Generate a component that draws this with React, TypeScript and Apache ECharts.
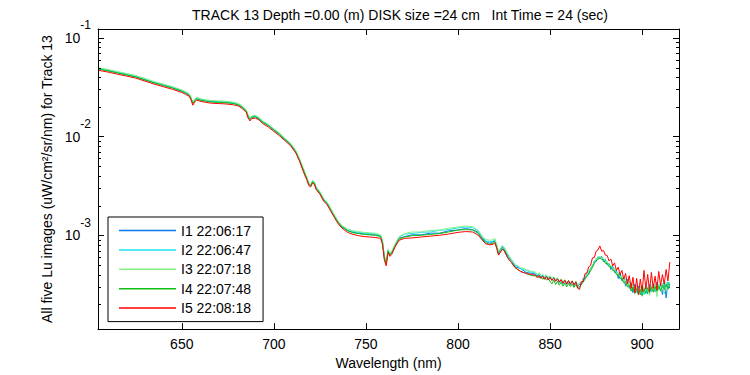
import React, { useEffect, useRef } from 'react';
import * as echarts from 'echarts';

const TITLE = 'TRACK 13 Depth =0.00 (m) DISK size =24 cm   Int Time = 24 (sec)';
const X_NAME = 'Wavelength (nm)';
const Y_NAME = 'All five Lu images (uW/cm²/sr/nm) for Track 13';
const X_MIN = 604.5;
const X_MAX = 920;
const Y_MIN = 1.12e-4;
const Y_MAX = 0.123;
const X_TICKS = [650, 700, 750, 800, 850, 900];
const Y_MINOR_TICKS = [
  2e-4, 3e-4, 4e-4, 5e-4, 6e-4, 7e-4, 8e-4, 9e-4,
  2e-3, 3e-3, 4e-3, 5e-3, 6e-3, 7e-3, 8e-3, 9e-3,
  2e-2, 3e-2, 4e-2, 5e-2, 6e-2, 7e-2, 8e-2, 9e-2,
];
const SERIES_NAMES = ['I1 22:06:17', 'I2 22:06:47', 'I3 22:07:18', 'I4 22:07:48', 'I5 22:08:18'];
const COLORS = ['#0a78f0', '#18e4f0', '#84f084', '#10c010', '#ff0000'];

const WAVELENGTH = [
  605, 610, 615, 620, 625, 630, 635, 640, 645, 650,
  652, 654, 655, 656, 657, 658, 660, 663, 666, 670,
  674, 678, 681, 683, 685, 686, 687, 688, 690, 692,
  694, 697, 700, 703, 706, 709, 712, 714, 716, 718,
  719, 720, 721, 722, 723, 725, 727, 729, 731, 733,
  735, 737, 740, 743, 746, 749, 752, 755, 758, 759,
  760, 761, 762, 763, 764, 766, 768, 771, 775, 780,
  785, 790, 795, 800, 804, 808, 811, 813, 815, 817,
  819, 820, 821, 822, 823, 824, 825, 827, 829, 831,
  834, 837, 840,
  842, 843, 844, 845, 846, 847, 848, 849, 850, 851,
  852, 853, 854, 855, 856, 857, 858, 859, 860, 861,
  862, 863, 864, 865, 866, 867, 868, 869, 870, 871,
  872, 873, 874, 875, 876, 877, 878, 879, 880, 881,
  882, 883, 884, 885, 886, 887, 888, 889, 890, 891,
  892, 893, 894, 895, 896, 897, 898, 899, 900, 901,
  902, 903, 904, 905, 906, 907, 908, 909, 910, 911,
  912, 913, 914, 915,
];

const I1 = [
  0.0485, 0.0466, 0.0445, 0.0425, 0.0405, 0.0378, 0.0352, 0.0332, 0.0312, 0.0290,
  0.0278, 0.0265, 0.0245, 0.0218, 0.0232, 0.0243, 0.0236, 0.0230, 0.0226, 0.0224,
  0.0222, 0.0218, 0.0210, 0.0198, 0.0182, 0.0162, 0.0150, 0.0158, 0.0160, 0.0152,
  0.0140, 0.0130, 0.0117, 0.0106, 0.0094, 0.0084, 0.0070, 0.0058, 0.0046, 0.0037,
  0.0033, 0.0032, 0.0035, 0.0034, 0.0030, 0.0027, 0.0023, 0.0021, 0.0018, 0.00155,
  0.00135, 0.00122, 0.00112, 0.00107, 0.00105, 0.00103, 0.00102, 0.00101, 0.00098, 0.00085,
  0.00060, 0.00052, 0.00070, 0.00064, 0.00067, 0.00080, 0.00093, 0.00097, 0.00101, 0.00101,
  0.00105, 0.00105, 0.00111, 0.00113, 0.00117, 0.00114, 0.00107, 0.00093, 0.00087, 0.00083,
  0.00086, 0.00088, 0.00077, 0.00066, 0.00071, 0.00075, 0.00074, 0.00061, 0.00056, 0.00048,
  0.00046, 0.00042, 0.00041,
  405e-6, 380e-6, 400e-6, 372e-6, 392e-6, 362e-6, 388e-6, 362e-6, 375e-6, 352e-6,
  370e-6, 345e-6, 362e-6, 332e-6, 355e-6, 322e-6, 350e-6, 318e-6, 342e-6, 316e-6,
  340e-6, 310e-6, 336e-6, 300e-6, 318e-6, 315e-6, 365e-6, 360e-6, 410e-6, 400e-6,
  470e-6, 475e-6, 548e-6, 540e-6, 605e-6, 580e-6, 610e-6, 540e-6, 568e-6, 500e-6,
  520e-6, 450e-6, 485e-6, 420e-6, 445e-6, 365e-6, 415e-6, 345e-6, 372e-6, 305e-6,
  358e-6, 290e-6, 330e-6, 262e-6, 320e-6, 270e-6, 305e-6, 250e-6, 310e-6, 262e-6,
  300e-6, 255e-6, 318e-6, 270e-6, 322e-6, 268e-6, 335e-6, 282e-6, 325e-6, 250e-6,
  345e-6, 232e-6, 335e-6, 290e-6,
];

const I2 = [
  0.0492, 0.0473, 0.0452, 0.0431, 0.0411, 0.0384, 0.0357, 0.0337, 0.0317, 0.0294,
  0.0282, 0.0269, 0.0249, 0.0221, 0.0235, 0.0247, 0.0240, 0.0233, 0.0229, 0.0227,
  0.0225, 0.0221, 0.0213, 0.0201, 0.0185, 0.0164, 0.0152, 0.0160, 0.0162, 0.0154,
  0.0142, 0.0132, 0.0119, 0.0108, 0.0095, 0.0085, 0.0071, 0.0059, 0.0047, 0.00376,
  0.00335, 0.00325, 0.00355, 0.00345, 0.00305, 0.00274, 0.00233, 0.00213, 0.00183, 0.00157,
  0.00137, 0.00124, 0.00114, 0.00109, 0.00107, 0.00105, 0.00104, 0.00103, 0.00099, 0.00086,
  0.00061, 0.00053, 0.00071, 0.00065, 0.00068, 0.00081, 0.00095, 0.00103, 0.00104, 0.00107,
  0.00108, 0.00112, 0.00114, 0.00119, 0.00121, 0.00120, 0.00110, 0.00097, 0.00088, 0.00086,
  0.00087, 0.00090, 0.00080, 0.00068, 0.00072, 0.00078, 0.00075, 0.00064, 0.00056, 0.00050,
  0.00046, 0.00044, 0.00042,
  415e-6, 398e-6, 405e-6, 388e-6, 390e-6, 384e-6, 386e-6, 378e-6, 378e-6, 372e-6,
  372e-6, 360e-6, 362e-6, 346e-6, 356e-6, 335e-6, 352e-6, 330e-6, 348e-6, 326e-6,
  344e-6, 320e-6, 340e-6, 314e-6, 324e-6, 330e-6, 358e-6, 378e-6, 405e-6, 425e-6,
  462e-6, 498e-6, 535e-6, 572e-6, 595e-6, 605e-6, 592e-6, 575e-6, 548e-6, 528e-6,
  505e-6, 488e-6, 462e-6, 445e-6, 425e-6, 402e-6, 385e-6, 372e-6, 355e-6, 340e-6,
  330e-6, 312e-6, 305e-6, 288e-6, 300e-6, 262e-6, 290e-6, 258e-6, 298e-6, 250e-6,
  295e-6, 268e-6, 305e-6, 275e-6, 312e-6, 280e-6, 318e-6, 288e-6, 325e-6, 292e-6,
  330e-6, 298e-6, 338e-6, 310e-6,
];

const I3 = [
  0.0497, 0.0478, 0.0456, 0.0436, 0.0415, 0.0387, 0.0361, 0.0340, 0.0320, 0.0297,
  0.0285, 0.0272, 0.0251, 0.0224, 0.0238, 0.0249, 0.0242, 0.0236, 0.0232, 0.0230,
  0.0228, 0.0223, 0.0215, 0.0203, 0.0187, 0.0166, 0.0154, 0.0162, 0.0164, 0.0156,
  0.0144, 0.0133, 0.0120, 0.0109, 0.0096, 0.0086, 0.0072, 0.0059, 0.0047, 0.0038,
  0.00338, 0.00328, 0.00359, 0.00349, 0.00308, 0.00277, 0.00236, 0.00215, 0.00185, 0.00159,
  0.00138, 0.00125, 0.00116, 0.00111, 0.00109, 0.00107, 0.00106, 0.00105, 0.00101, 0.00087,
  0.00062, 0.00053, 0.00072, 0.00066, 0.00069, 0.00083, 0.00097, 0.00104, 0.00108, 0.00108,
  0.00112, 0.00113, 0.00118, 0.00121, 0.00124, 0.00122, 0.00112, 0.00099, 0.00091, 0.00089,
  0.00090, 0.00093, 0.00080, 0.00068, 0.00073, 0.00079, 0.00076, 0.00065, 0.00057, 0.00051,
  0.00047, 0.00045, 0.00043,
  425e-6, 400e-6, 418e-6, 390e-6, 405e-6, 378e-6, 398e-6, 372e-6, 390e-6, 365e-6,
  382e-6, 355e-6, 372e-6, 345e-6, 362e-6, 336e-6, 355e-6, 328e-6, 350e-6, 322e-6,
  346e-6, 318e-6, 340e-6, 310e-6, 330e-6, 338e-6, 352e-6, 392e-6, 400e-6, 445e-6,
  450e-6, 505e-6, 518e-6, 582e-6, 572e-6, 618e-6, 568e-6, 590e-6, 525e-6, 545e-6,
  485e-6, 502e-6, 440e-6, 465e-6, 398e-6, 422e-6, 360e-6, 390e-6, 328e-6, 365e-6,
  298e-6, 342e-6, 275e-6, 325e-6, 255e-6, 310e-6, 248e-6, 305e-6, 240e-6, 300e-6,
  255e-6, 305e-6, 245e-6, 315e-6, 262e-6, 318e-6, 238e-6, 322e-6, 268e-6, 328e-6,
  255e-6, 335e-6, 278e-6, 336e-6,
];

const I4 = [
  0.0482, 0.0462, 0.0441, 0.0421, 0.0401, 0.0374, 0.0349, 0.0329, 0.0309, 0.0287,
  0.0275, 0.0262, 0.0243, 0.0217, 0.0230, 0.0241, 0.0234, 0.0228, 0.0224, 0.0222,
  0.0220, 0.0216, 0.0208, 0.0196, 0.0180, 0.0161, 0.0149, 0.0156, 0.0158, 0.0150,
  0.0139, 0.0129, 0.0116, 0.0105, 0.0093, 0.0083, 0.0069, 0.0057, 0.0046, 0.0037,
  0.00327, 0.00317, 0.00347, 0.00337, 0.00297, 0.00267, 0.00228, 0.00208, 0.00178, 0.00153,
  0.00134, 0.00121, 0.00111, 0.00106, 0.00104, 0.00102, 0.00101, 0.00100, 0.00097, 0.00084,
  0.00059, 0.00051, 0.00069, 0.00063, 0.00066, 0.00079, 0.00092, 0.00096, 0.00099, 0.00100,
  0.00102, 0.00104, 0.00108, 0.00113, 0.00114, 0.00113, 0.00104, 0.00092, 0.00084, 0.00081,
  0.00083, 0.00086, 0.00075, 0.00063, 0.00068, 0.00073, 0.00071, 0.00059, 0.00053, 0.00047,
  0.00043, 0.00041, 0.00039,
  388e-6, 392e-6, 370e-6, 380e-6, 358e-6, 372e-6, 352e-6, 366e-6, 340e-6, 322e-6,
  352e-6, 318e-6, 342e-6, 312e-6, 335e-6, 305e-6, 330e-6, 300e-6, 325e-6, 302e-6,
  320e-6, 296e-6, 318e-6, 290e-6, 298e-6, 320e-6, 335e-6, 362e-6, 382e-6, 410e-6,
  435e-6, 475e-6, 515e-6, 555e-6, 570e-6, 590e-6, 568e-6, 565e-6, 520e-6, 520e-6,
  480e-6, 480e-6, 442e-6, 438e-6, 402e-6, 398e-6, 362e-6, 368e-6, 330e-6, 338e-6,
  300e-6, 312e-6, 272e-6, 298e-6, 258e-6, 288e-6, 252e-6, 282e-6, 245e-6, 288e-6,
  258e-6, 292e-6, 262e-6, 298e-6, 268e-6, 302e-6, 270e-6, 306e-6, 275e-6, 312e-6,
  282e-6, 318e-6, 285e-6, 322e-6,
];

const I5 = [
  0.0468, 0.0450, 0.0429, 0.0410, 0.0391, 0.0365, 0.0340, 0.0320, 0.0301, 0.0280,
  0.0268, 0.0256, 0.0236, 0.0208, 0.0224, 0.0234, 0.0228, 0.0222, 0.0218, 0.0216,
  0.0214, 0.0210, 0.0203, 0.0191, 0.0176, 0.0154, 0.0144, 0.0152, 0.0154, 0.0147,
  0.0135, 0.0125, 0.0113, 0.0102, 0.0091, 0.0081, 0.0068, 0.0056, 0.0044, 0.0036,
  0.00318, 0.00309, 0.00338, 0.00328, 0.00290, 0.00261, 0.00222, 0.00203, 0.00174, 0.00150,
  0.00130, 0.00118, 0.00107, 0.00102, 0.00099, 0.00097, 0.00096, 0.00095, 0.00093, 0.00080,
  0.00056, 0.00049, 0.00067, 0.00061, 0.00064, 0.00077, 0.00089, 0.00093, 0.00094, 0.00096,
  0.00098, 0.00100, 0.00103, 0.00107, 0.00109, 0.00108, 0.00100, 0.00090, 0.00082, 0.00080,
  0.00081, 0.00084, 0.00074, 0.00063, 0.00067, 0.00072, 0.00070, 0.00059, 0.00053, 0.00047,
  0.00043, 0.00041, 0.00040,
  395e-6, 372e-6, 390e-6, 365e-6, 385e-6, 358e-6, 380e-6, 352e-6, 375e-6, 348e-6,
  368e-6, 342e-6, 362e-6, 335e-6, 355e-6, 328e-6, 350e-6, 322e-6, 348e-6, 320e-6,
  345e-6, 312e-6, 338e-6, 292e-6, 282e-6, 340e-6, 340e-6, 410e-6, 415e-6, 480e-6,
  495e-6, 590e-6, 595e-6, 690e-6, 710e-6, 780e-6, 690e-6, 700e-6, 630e-6, 625e-6,
  550e-6, 575e-6, 490e-6, 525e-6, 440e-6, 475e-6, 400e-6, 440e-6, 360e-6, 410e-6,
  320e-6, 390e-6, 290e-6, 375e-6, 262e-6, 365e-6, 250e-6, 360e-6, 268e-6, 440e-6,
  285e-6, 400e-6, 270e-6, 420e-6, 290e-6, 385e-6, 280e-6, 430e-6, 310e-6, 400e-6,
  320e-6, 450e-6, 345e-6, 535e-6,
];

const SERIES_VALUES = [I1, I2, I3, I4, I5];

const FONT = 'Liberation Sans, Arial, Helvetica, sans-serif';

export default function App() {
  const ref = useRef<HTMLDivElement>(null);

  useEffect(() => {
    if (!ref.current) return;
    const chart = echarts.init(ref.current, undefined, { renderer: 'svg' });

    const lineSeries = SERIES_VALUES.map((vals, k) => ({
      type: 'line',
      name: SERIES_NAMES[k],
      data: WAVELENGTH.map((w, i) => [w, vals[i]]),
      showSymbol: false,
      symbol: 'none',
      lineStyle: { width: 1, color: COLORS[k] },
      itemStyle: { color: COLORS[k] },
      silent: true,
      z: 2,
    }));

    const minorTickSeries = {
      type: 'custom',
      xAxisIndex: 0,
      yAxisIndex: 0,
      silent: true,
      clip: false,
      z: 5,
      data: Y_MINOR_TICKS.map((v) => [X_MIN, v]),
      renderItem: (params: any, api: any) => {
        const p = api.coord([api.value(0), api.value(1)]);
        const cs = params.coordSys;
        const y = Math.round(p[1]) + 0.5;
        const x0 = Math.round(cs.x);
        const x1 = Math.round(cs.x + cs.width);
        return {
          type: 'group',
          children: [
            { type: 'line', shape: { x1: x0, y1: y, x2: x0 + 3, y2: y }, style: { stroke: '#000', lineWidth: 1 } },
            { type: 'line', shape: { x1: x1 - 3, y1: y, x2: x1, y2: y }, style: { stroke: '#000', lineWidth: 1 } },
          ],
        };
      },
    };

    const yLabelFormatter = (v: number) => {
      const e = Math.log10(v);
      const r = Math.round(e);
      if (Math.abs(e - r) > 1e-6) return '';
      return `{b|10}{s|${r}}`;
    };

    const axisLine = { show: true, lineStyle: { color: '#000', width: 1 } };

    chart.setOption({
      animation: false,
      backgroundColor: '#fff',
      textStyle: { fontFamily: FONT },
      grid: { left: 98, top: 29, width: 581, height: 302, containLabel: false },
      graphic: [
        {
          type: 'text',
          x: 400,
          y: 15,
          style: {
            text: TITLE,
            fontSize: 14,
            fontFamily: FONT,
            fill: '#000',
            textAlign: 'center',
            textVerticalAlign: 'middle',
          },
        },
      ],
      legend: {
        data: SERIES_NAMES,
        orient: 'vertical',
        left: 108,
        top: 217,
        padding: [6, 12, 6, 11],
        itemGap: 4.4,
        itemWidth: 57,
        itemHeight: 1.5,
        icon: 'rect',
        backgroundColor: '#fff',
        borderColor: '#000',
        borderWidth: 1,
        borderRadius: 0,
        selectedMode: false,
        textStyle: { fontSize: 14, lineHeight: 15, color: '#000', fontFamily: FONT },
        z: 10,
      },
      xAxis: [
        {
          type: 'value',
          min: X_MIN,
          max: X_MAX,
          position: 'bottom',
          axisLine,
          axisTick: { show: true, inside: true, length: 6, customValues: X_TICKS, lineStyle: { color: '#000' } },
          axisLabel: { show: true, customValues: X_TICKS, color: '#000', fontSize: 14, margin: 8, fontFamily: FONT },
          splitLine: { show: false },
          name: X_NAME,
          nameLocation: 'middle',
          nameGap: 23,
          nameTextStyle: { color: '#000', fontSize: 14, fontFamily: FONT },
        },
        {
          type: 'value',
          min: X_MIN,
          max: X_MAX,
          position: 'top',
          axisLine,
          axisTick: { show: true, inside: true, length: 6, customValues: X_TICKS, lineStyle: { color: '#000' } },
          axisLabel: { show: false },
          splitLine: { show: false },
        },
      ],
      yAxis: [
        {
          type: 'log',
          logBase: 10,
          min: Y_MIN,
          max: Y_MAX,
          position: 'left',
          axisLine,
          axisTick: { show: true, inside: true, length: 6, lineStyle: { color: '#000' } },
          axisLabel: {
            show: true,
            margin: 7,
            formatter: yLabelFormatter,
            color: '#000',
            rich: {
              b: { fontSize: 14, lineHeight: 37, fontFamily: FONT, color: '#000' },
              s: { fontSize: 12, lineHeight: 12, verticalAlign: 'top', fontFamily: FONT, color: '#000' },
            },
          },
          splitLine: { show: false },
          name: Y_NAME,
          nameLocation: 'middle',
          nameGap: 39,
          nameTextStyle: { color: '#000', fontSize: 14, fontFamily: FONT },
        },
        {
          type: 'log',
          logBase: 10,
          min: Y_MIN,
          max: Y_MAX,
          position: 'right',
          axisLine,
          axisTick: { show: true, inside: true, length: 6, lineStyle: { color: '#000' } },
          axisLabel: { show: false },
          splitLine: { show: false },
        },
      ],
      series: [...lineSeries, minorTickSeries],
    });

    return () => chart.dispose();
  }, []);

  return (
    <div
      ref={ref}
      style={{ position: 'fixed', left: 0, top: 0, width: 750, height: 375, background: '#fff' }}
    />
  );
}
